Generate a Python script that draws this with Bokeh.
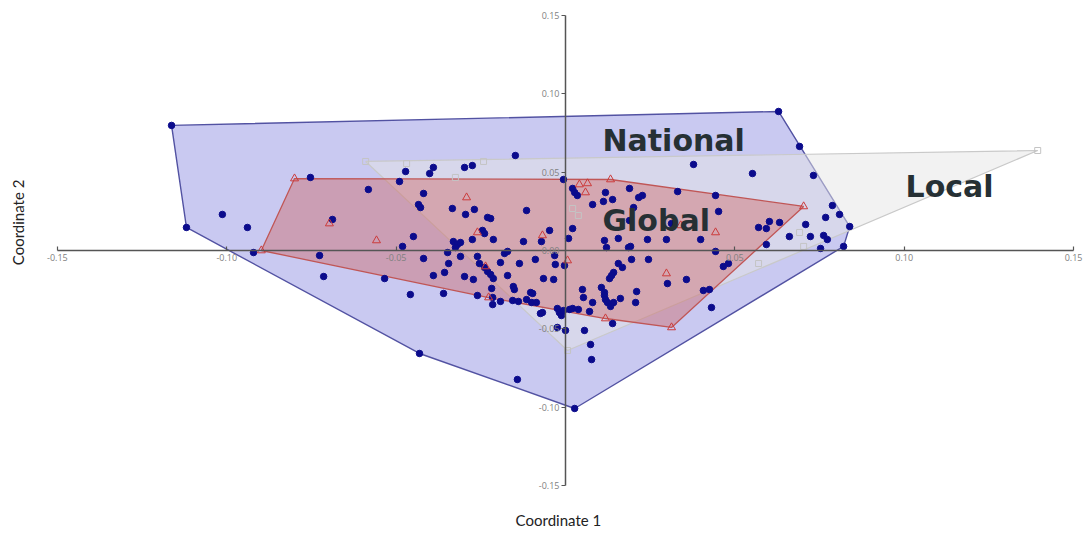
import numpy as np
from bokeh.plotting import figure
from bokeh.models import FixedTicker, PrintfTickFormatter, Range1d, Label
from bokeh.embed import file_html
from bokeh.resources import INLINE

# ---- data ----
national_x = [-0.1163, -0.1119, -0.1013, -0.0939, -0.0921, -0.0753, -0.0688, -0.0726, -0.0714, -0.0582,
              -0.0534, -0.0458, -0.0431, -0.0360, -0.0142, 0.0027, -0.0472, -0.0490, -0.0390, -0.0401,
              -0.0419, -0.0434, -0.0428, -0.0334, -0.0449, -0.0481, -0.0419, -0.0390, -0.0357, -0.0348,
              -0.0345, -0.0331, -0.0319, -0.0310, -0.0325, -0.0310, -0.0298, -0.0272, -0.0295, -0.0269,
              -0.0230, -0.0221, -0.0298, -0.0275, -0.0148, -0.0115, -0.0245, -0.0239, -0.0275, -0.0213,
              -0.0124, -0.0071, -0.0047, -0.0260, -0.0254, -0.0239, -0.0230, -0.0221, -0.0213, -0.0192,
              -0.0180, -0.0171, -0.0136, -0.0171, -0.0089, -0.0065, -0.0035, -0.0032, -0.0030, -0.0003,
              -0.0218, -0.0260, -0.0215, -0.0215, -0.0192, -0.0154, -0.0151, -0.0156, -0.0139, -0.0115,
              -0.0103, -0.0097, -0.0100, -0.0086, -0.0074, -0.0068, -0.0024, -0.0018, -0.0012, -0.0006,
              0.0012, -0.0024, 0.0000, -0.0006, 0.0021, 0.0027, 0.0035, 0.0080, 0.0021, 0.0009,
              0.0118, 0.0112, 0.0139, 0.0189, 0.0216, 0.0227, 0.0331, 0.0443, 0.0201, 0.0452,
              0.0378, 0.0552, 0.0189, 0.0313, 0.0115, 0.0156, 0.0121, 0.0186, 0.0192, 0.0242,
              0.0298, 0.0399, 0.0443, 0.0195, 0.0245, 0.0156, 0.0168, 0.0142, 0.0136, 0.0130,
              0.0301, 0.0357, 0.0466, 0.0481, 0.0050, 0.0053, 0.0080, 0.0106, 0.0115, 0.0115,
              0.0118, 0.0124, 0.0133, 0.0142, 0.0162, 0.0210, 0.0207, 0.0407, 0.0425, 0.0431,
              0.0139, 0.0021, 0.0038, 0.0071, 0.0056, 0.0074, 0.0077, 0.0629, 0.0691, 0.0732,
              0.0788, 0.0809, 0.0839, 0.0768, 0.0709, 0.0602, 0.0593, 0.0570, 0.0632, 0.0661,
              0.0723, 0.0762, 0.0773, 0.0593, 0.0753, 0.0821]
national_y = [0.0798, 0.0147, 0.0230, 0.0147, -0.0013, 0.0466, 0.0198, -0.0032, -0.0166, 0.0389,
              -0.0179, -0.0281, -0.0657, -0.0274, -0.0823, -0.1008, 0.0504, 0.0440, 0.0530, 0.0491,
              0.0364, 0.0293, 0.0274, 0.0268, 0.0089, 0.0026, -0.0051, -0.0160, -0.0140, -0.0013,
              -0.0083, 0.0057, 0.0038, 0.0051, 0.0019, -0.0038, -0.0166, -0.0185, 0.0230, 0.0262,
              0.0211, 0.0204, 0.0530, 0.0542, 0.0606, 0.0255, 0.0128, 0.0108, 0.0070, 0.0070,
              0.0057, 0.0057, 0.0128, -0.0038, -0.0083, -0.0108, -0.0134, -0.0153, -0.0179, -0.0077,
              -0.0019, -0.0006, -0.0083, -0.0160, -0.0057, -0.0179, -0.0185, -0.0032, -0.0089, -0.0096,
              -0.0242, -0.0287, -0.0300, -0.0345, -0.0325, -0.0230, -0.0249, -0.0319, -0.0325, -0.0313,
              -0.0268, -0.0274, -0.0332, -0.0332, -0.0402, -0.0396, -0.0370, -0.0396, -0.0415, -0.0383,
              -0.0376, -0.0491, -0.0510, 0.0453, 0.0396, 0.0370, 0.0351, 0.0293, 0.0140, 0.0077,
              0.0370, 0.0313, 0.0325, 0.0396, 0.0338, 0.0351, 0.0376, 0.0351, 0.0274, 0.0249,
              0.0549, 0.0491, 0.0191, 0.0172, 0.0064, 0.0077, 0.0019, 0.0019, 0.0026, 0.0070,
              0.0070, 0.0070, -0.0006, -0.0057, -0.0057, -0.0083, -0.0108, -0.0140, -0.0160, -0.0179,
              -0.0211, -0.0185, -0.0102, -0.0083, -0.0249, -0.0300, -0.0332, -0.0236, -0.0268, -0.0287,
              -0.0313, -0.0332, -0.0357, -0.0332, -0.0306, -0.0262, -0.0332, -0.0255, -0.0249, -0.0364,
              -0.0466, -0.0370, -0.0376, -0.0389, -0.0510, -0.0600, -0.0696, 0.0887, 0.0664, 0.0479,
              0.0287, 0.0230, 0.0153, 0.0211, 0.0166, 0.0185, 0.0140, 0.0147, 0.0179, 0.0089,
              0.0089, 0.0096, 0.0070, 0.0038, 0.0013, 0.0026]

global_x = [-0.0800, -0.0898, -0.0697, -0.0558, -0.0292, 0.0041, 0.0065, 0.0059, 0.0133, -0.0260,
            -0.0068, 0.0006, -0.0236, 0.0443, 0.0298, 0.0340, 0.0703, -0.0227, 0.0118, 0.0313]
global_y = [0.0459, 0.0000, 0.0172, 0.0064, 0.0338, 0.0421, 0.0428, 0.0370, 0.0453, 0.0115,
            0.0096, -0.0064, -0.0102, 0.0115, -0.0147, 0.0160, 0.0281, -0.0300, -0.0434, -0.0491]

local_x = [-0.0590, -0.0469, -0.0242, -0.0325, 0.1394, 0.0691, 0.0703, 0.0570, 0.0021, 0.0038, 0.0006]
local_y = [0.0568, 0.0555, 0.0568, 0.0466, 0.0638, 0.0115, 0.0026, -0.0083, 0.0268, 0.0223, -0.0638]

axis_ticks = [-0.15, -0.10, -0.05, 0.0, 0.05, 0.10, 0.15]
group_names = ["National", "Global", "Local"]


def convex_hull(xs, ys):
    pts = sorted(set(zip(xs, ys)))

    def cross(o, a, b):
        return (a[0] - o[0]) * (b[1] - o[1]) - (a[1] - o[1]) * (b[0] - o[0])

    lower, upper = [], []
    for pt in pts:
        while len(lower) >= 2 and cross(lower[-2], lower[-1], pt) <= 0:
            lower.pop()
        lower.append(pt)
    for pt in reversed(pts):
        while len(upper) >= 2 and cross(upper[-2], upper[-1], pt) <= 0:
            upper.pop()
        upper.append(pt)
    h = lower[:-1] + upper[:-1]
    return [q[0] for q in h], [q[1] for q in h]


p = figure(width=1088, height=534, output_backend="svg", toolbar_location=None,
           x_range=Range1d(-0.1668, 0.1544), y_range=Range1d(-0.1812, 0.1595),
           min_border=0, background_fill_color="white", border_fill_color="white")
p.outline_line_color = None
p.xgrid.visible = False
p.ygrid.visible = False

# hulls
nhx, nhy = convex_hull(national_x, national_y)
ghx, ghy = convex_hull(global_x, global_y)
lhx, lhy = convex_hull(local_x, local_y)

p.patch(nhx, nhy, fill_color="#7777dd", fill_alpha=0.4, line_color="#5252a2", line_width=1.4)
p.patch(lhx, lhy, fill_color="#e6e6e6", fill_alpha=0.5, line_color="#c9c9c9", line_width=1.2)
p.patch(ghx, ghy, fill_color="#d0605a", fill_alpha=0.4, line_color="#c05656", line_width=1.3)

# points
p.scatter(local_x, local_y, marker="square", size=6, fill_color=None,
          line_color="#c4c4c4", line_width=1)
p.scatter(national_x, national_y, marker="circle", size=6.5, fill_color="#0b0b8c",
          line_color="#0b0b8c")
p.scatter(global_x, global_y, marker="triangle", size=8, fill_color=None,
          line_color="#cc3b3b", line_width=1)

# axes crossing at origin
for ax in (p.xaxis[0], p.yaxis[0]):
    ax.fixed_location = 0
    ax.bounds = (-0.15, 0.15)
    ax.axis_line_color = "#555555"
    ax.axis_line_width = 1.5
    ax.major_tick_line_color = "#555555"
    ax.major_tick_line_width = 1.2
    ax.minor_tick_line_color = None
    ax.major_label_text_font = "Open Sans"
    ax.major_label_text_font_size = "9px"
    ax.major_label_text_color = "#808080"
    ax.formatter = PrintfTickFormatter(format="%.2f")

p.xaxis[0].ticker = FixedTicker(ticks=[t for t in axis_ticks if t != 0.0])
p.xaxis[0].major_tick_in = 4
p.xaxis[0].major_tick_out = 0
p.xaxis[0].major_label_standoff = 4
p.yaxis[0].ticker = FixedTicker(ticks=axis_ticks)
p.yaxis[0].major_tick_in = 0
p.yaxis[0].major_tick_out = 4
p.yaxis[0].major_label_standoff = 2

# group names
name_pos = {"National": (0.0109, 0.0702), "Global": (0.0109, 0.0191), "Local": (0.1004, 0.0408)}
for nm in group_names:
    x0, y0 = name_pos[nm]
    p.add_layout(Label(x=x0, y=y0, text=nm, text_font="DejaVu Sans", text_font_style="bold",
                       text_font_size="30px", text_color="#263034", text_baseline="middle",
                       text_align="left"))

# axis titles
p.add_layout(Label(x=-0.0021, y=-0.1717, text="Coordinate 1", text_align="center",
                   text_baseline="middle", text_font="Lato", text_font_size="15px",
                   text_color="#222222"))
p.add_layout(Label(x=-0.1615, y=0.0179, text="Coordinate 2", text_align="center",
                   text_baseline="middle", text_font="Lato", text_font_size="15px",
                   text_color="#222222", angle=np.pi / 2))

open("out.html", "w").write(file_html(p, INLINE))
